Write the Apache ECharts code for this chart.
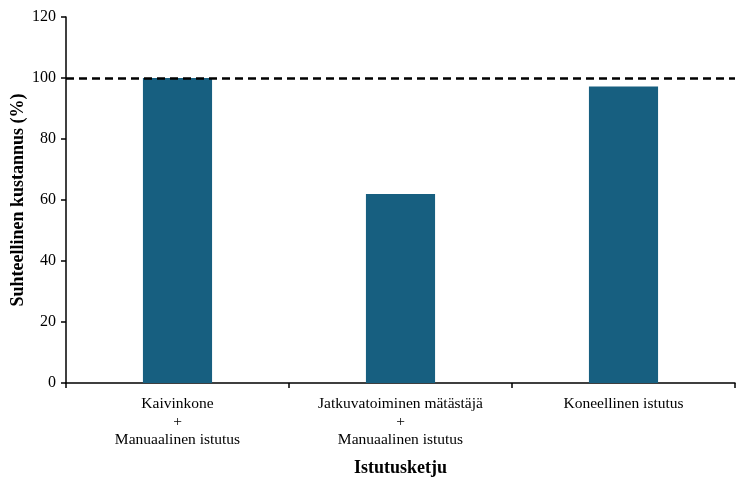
<!DOCTYPE html>
<html>
<head>
<meta charset="utf-8">
<script src="https://cdn.jsdelivr.net/npm/echarts@6/dist/echarts.min.js"></script>
<style>html,body{margin:0;padding:0;background:#fff}#c{width:750px;height:485px}</style>
</head>
<body>
<div id="c"></div>
<script>
const categories = ["Kaivinkone\n+\nManuaalinen istutus", "Jatkuvatoiminen mätästäjä\n+\nManuaalinen istutus", "Koneellinen istutus"];
const values = [100, 62, 97.2];
const referenceLevel = 100;
const yTicks = {min: 0, max: 120, interval: 20};

const chart = echarts.init(document.getElementById('c'));
const font = '"Liberation Serif", "Times New Roman", serif';
chart.setOption({
  animation: false,
  grid: {left: 66, right: 15, top: 17, bottom: 102, containLabel: false, outerBoundsMode: 'none'},
  xAxis: {
    type: 'category',
    data: categories,
    name: 'Istutusketju',
    nameLocation: 'middle',
    nameGap: 76,
    nameTextStyle: {fontFamily: font, fontSize: 18, fontWeight: 'bold', color: '#000'},
    axisLine: {lineStyle: {color: '#000', width: 1.5}},
    axisTick: {show: true, alignWithLabel: false, length: 5, lineStyle: {color: '#000', width: 1.5}},
    axisLabel: {interval: 0, fontFamily: font, fontSize: 15.5, color: '#000', lineHeight: 18, margin: 12}
  },
  yAxis: {
    type: 'value',
    min: yTicks.min, max: yTicks.max, interval: yTicks.interval,
    name: 'Suhteellinen kustannus (%)',
    nameLocation: 'middle',
    nameGap: 39,
    nameMoveOverlap: false,
    nameTextStyle: {fontFamily: font, fontSize: 18, fontWeight: 'bold', color: '#000'},
    axisLine: {show: true, lineStyle: {color: '#000', width: 1.5}},
    axisTick: {show: true, length: 5, lineStyle: {color: '#000', width: 1.5}},
    axisLabel: {fontFamily: font, fontSize: 16, color: '#000', margin: 10},
    splitLine: {show: false}
  },
  series: [{
    type: 'bar',
    data: values,
    barWidth: '31%',
    itemStyle: {color: '#175F80'},
    markLine: {
      silent: true,
      symbol: 'none',
      label: {show: false},
      lineStyle: {color: '#000', type: [8, 5], width: 2.5},
      data: [{yAxis: referenceLevel}]
    }
  }]
});
</script>
</body>
</html>
